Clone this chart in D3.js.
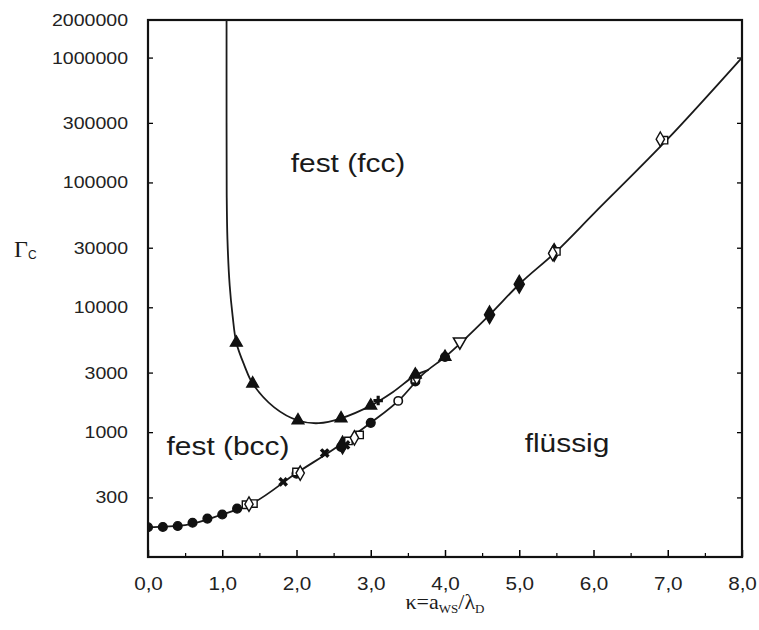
<!DOCTYPE html>
<html><head><meta charset="utf-8">
<script src="https://cdn.jsdelivr.net/npm/d3@7"></script>
<style>body{margin:0;background:#fff} svg{display:block}</style>
</head><body>
<svg id="c" width="759" height="630"></svg>
<script>
// ---- data ----
const xTicks = [0, 1, 2, 3, 4, 5, 6, 7, 8];
const xMinorTicks = [0.5, 1.5, 2.5, 3.5, 4.5, 5.5, 6.5, 7.5];
const yTickLabels = [300, 1000, 3000, 10000, 30000, 100000, 300000, 1000000, 2000000];
const yTickMarks = [300, 1000, 3000, 10000, 30000, 100000, 300000, 1000000];

// melting line (fluid / solid)
const meltKappa = [0, 0.5, 1.0, 1.4, 2.0, 2.5, 3.0, 3.4, 3.7, 4.0, 4.6, 5.0, 5.5, 6.0, 7.0, 8.0];
const meltGamma = [173, 180, 219, 268, 470, 730, 1188, 1850, 2900, 4000, 8700, 15300, 28000, 56000, 223000, 1000000];

// bcc / fcc boundary
const fccKappa = [1.058, 1.058, 1.06, 1.07, 1.10, 1.14, 1.19, 1.30, 1.41, 1.70, 2.02, 2.30, 2.60, 3.00, 3.30, 3.60, 3.78];
const fccGamma = [2000000, 300000, 80000, 35000, 15000, 8500, 5200, 3400, 2450, 1580, 1240, 1180, 1290, 1630, 2100, 2850, 3150];

// data points by symbol
const circleKappa = [0, 0.2, 0.4, 0.6, 0.8, 1.0, 1.2, 2.0, 2.6, 3.0, 3.6, 4.0];
const circleGamma = [173, 174, 177, 188, 203, 219, 244, 465, 760, 1188, 2550, 4000];
const filledDiamondKappa = [2.62, 4.6, 5.0, 5.47];
const filledDiamondGamma = [790, 8700, 15300, 27500];
const squareKappa = [1.32, 1.42, 2.0, 2.7, 2.85, 3.6, 5.5, 6.95];
const squareGamma = [262, 268, 480, 850, 950, 2650, 28000, 218000];
const diamondKappa = [1.36, 2.05, 2.78, 3.62, 5.45, 6.9];
const diamondGamma = [265, 470, 900, 2750, 27000, 222000];
const triangleKappa = [1.19, 1.41, 2.02, 2.6, 3.0, 3.6, 4.0];
const triangleGamma = [5200, 2450, 1240, 1290, 1630, 2890, 4000];
const crossKappa = [1.82, 2.38, 2.66];
const crossGamma = [400, 680, 790];
const plusKappa = [3.1];
const plusGamma = [1790];
const openCircleKappa = [3.37];
const openCircleGamma = [1780];
const invTriangleKappa = [4.2];
const invTriangleGamma = [5300];

// ---- layout ----
const svg = d3.select('#c');
const L = 148, R = 742, T = 20, B = 557;
const x = d3.scaleLinear().domain([0, 8]).range([L, R]);
const y = d3.scaleLog().domain([100, 2000000]).range([B, T]);
const SX = 1.15;
const sans = '"Liberation Sans", Arial, sans-serif';
const serif = '"Liberation Serif", "Times New Roman", serif';

function stretchTexts(sel) {
  sel.selectAll('text').each(function () {
    const t = d3.select(this);
    const tx = +t.attr('x') || 0, ty = +t.attr('y') || 0;
    t.attr('x', 0).attr('y', 0).attr('transform', `translate(${tx},${ty}) scale(${SX},1)`);
  });
}

// clip
svg.append('clipPath').attr('id', 'clip').append('rect')
  .attr('x', L).attr('y', T).attr('width', R - L).attr('height', B - T);

// axes
const gx = svg.append('g').attr('transform', `translate(0,${B})`)
  .call(d3.axisBottom(x).tickValues(xTicks).tickSize(-7).tickPadding(20)
    .tickFormat(d => d.toFixed(1).replace('.', ',')));
gx.select('.domain').remove();
gx.selectAll('text').attr('font-size', 18).attr('font-family', sans).attr('fill', '#222');
gx.selectAll('line').attr('stroke-width', 1.5);
stretchTexts(gx);

const gxm = svg.append('g').attr('transform', `translate(0,${B})`)
  .call(d3.axisBottom(x).tickValues(xMinorTicks).tickSize(-4).tickFormat(''));
gxm.select('.domain').remove();
gxm.selectAll('line').attr('stroke-width', 1.2);

const gy = svg.append('g').attr('transform', `translate(${L},0)`)
  .call(d3.axisLeft(y).tickValues(yTickLabels).tickSize(0).tickPadding(20).tickFormat(d => String(d)));
gy.select('.domain').remove();
gy.selectAll('line').remove();
gy.selectAll('text').attr('font-size', 17).attr('font-family', sans).attr('fill', '#222');
stretchTexts(gy);

const gyt = svg.append('g').attr('transform', `translate(${L},0)`)
  .call(d3.axisLeft(y).tickValues(yTickMarks).tickSize(-5).tickFormat(''));
gyt.select('.domain').remove();
gyt.selectAll('line').attr('stroke-width', 1.3);

const gyr = svg.append('g').attr('transform', `translate(${R},0)`)
  .call(d3.axisRight(y).tickValues(yTickMarks).tickSize(-5).tickFormat(''));
gyr.select('.domain').remove();
gyr.selectAll('line').attr('stroke-width', 1.3);

// frame
svg.append('rect').attr('x', L).attr('y', T).attr('width', R - L).attr('height', B - T)
  .attr('fill', 'none').attr('stroke', '#111').attr('stroke-width', 2.2);

// curves
const plot = svg.append('g').attr('clip-path', 'url(#clip)');
const meltData = meltKappa.map((k, i) => [k, meltGamma[i]]);
const fccData = fccKappa.map((k, i) => [k, fccGamma[i]]);
plot.append('path').datum(meltData)
  .attr('d', d3.line().x(d => x(d[0])).y(d => y(d[1])).curve(d3.curveMonotoneX))
  .attr('fill', 'none').attr('stroke', '#1a1a1a').attr('stroke-width', 1.8);
plot.append('path').datum(fccData)
  .attr('d', d3.line().x(d => x(d[0])).y(d => y(d[1])).curve(d3.curveCatmullRom.alpha(0.5)))
  .attr('fill', 'none').attr('stroke', '#1a1a1a').attr('stroke-width', 1.8);

// markers
function pts(ks, gs) { return ks.map((k, i) => [k, gs[i]]); }
function drawSym(ks, gs, type, size, filled, sw) {
  plot.append('g').selectAll('path').data(pts(ks, gs)).join('path')
    .attr('transform', d => `translate(${x(d[0])},${y(d[1])})`)
    .attr('d', d3.symbol().type(type).size(size))
    .attr('fill', filled ? '#111' : '#fff')
    .attr('stroke', '#111').attr('stroke-width', sw || 1.4);
}
drawSym(circleKappa, circleGamma, d3.symbolCircle, 60, true);
drawSym(filledDiamondKappa, filledDiamondGamma, d3.symbolDiamond, 90, true);
drawSym(squareKappa, squareGamma, d3.symbolSquare, 55, false);
drawSym(diamondKappa, diamondGamma, d3.symbolDiamond, 60, false);
drawSym(triangleKappa, triangleGamma, d3.symbolTriangle, 60, true);
drawSym(openCircleKappa, openCircleGamma, d3.symbolCircle, 55, false, 1.6);
// crosses, plus, inverted triangle
plot.append('g').selectAll('path').data(pts(crossKappa, crossGamma)).join('path')
  .attr('transform', d => `translate(${x(d[0])},${y(d[1])}) rotate(45)`)
  .attr('d', d3.symbol().type(d3.symbolCross).size(60))
  .attr('fill', '#111').attr('stroke', 'none');
plot.append('g').selectAll('path').data(pts(plusKappa, plusGamma)).join('path')
  .attr('transform', d => `translate(${x(d[0])},${y(d[1])})`)
  .attr('d', d3.symbol().type(d3.symbolCross).size(50))
  .attr('fill', '#111').attr('stroke', 'none');
plot.append('g').selectAll('path').data(pts(invTriangleKappa, invTriangleGamma)).join('path')
  .attr('transform', d => `translate(${x(d[0])},${y(d[1])}) rotate(180)`)
  .attr('d', d3.symbol().type(d3.symbolTriangle).size(70))
  .attr('fill', '#fff').attr('stroke', '#111').attr('stroke-width', 1.6);

// region labels
function label(txt, cx, by, fs) {
  svg.append('text').attr('transform', `translate(${cx},${by}) scale(${SX},1)`)
    .attr('text-anchor', 'middle').attr('font-family', sans).attr('font-size', fs)
    .attr('fill', '#1a1a1a').text(txt);
}
label('fest (fcc)', 348, 172, 26);
label('fest (bcc)', 228, 455, 26);
label('flüssig', 567, 452, 26);

// axis titles
const yl = svg.append('text').attr('x', 14).attr('y', 257).attr('fill', '#1a1a1a');
yl.append('tspan').attr('font-family', serif).attr('font-size', 24).text('Γ');
yl.append('tspan').attr('font-family', sans).attr('font-size', 12).attr('dy', 2).text('C');

const xl = svg.append('text').attr('x', 445).attr('y', 609).attr('text-anchor', 'middle')
  .attr('font-family', serif).attr('font-size', 22).attr('fill', '#1a1a1a');
xl.append('tspan').text('κ=a');
xl.append('tspan').attr('font-size', 13).attr('dy', 4).text('WS');
xl.append('tspan').attr('dy', -4).text('/λ');
xl.append('tspan').attr('font-size', 13).attr('dy', 4).text('D');
</script>
</body></html>
